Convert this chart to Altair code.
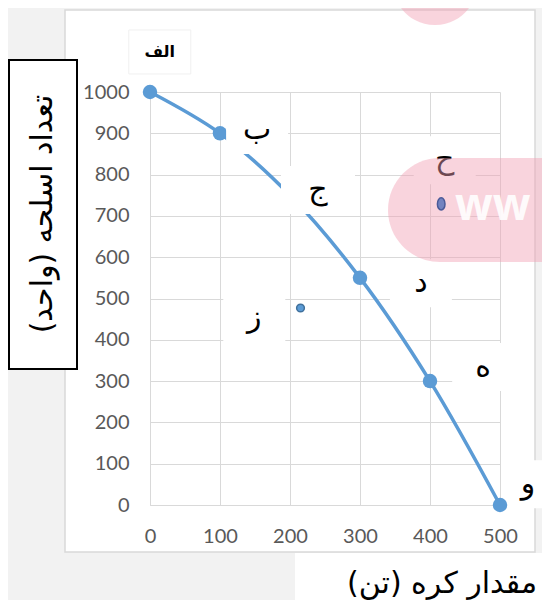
import altair as alt
import pandas as pd

# PPF curve points
curve_x = [0, 100, 200, 300, 400, 500]
curve_y = [1000, 900, 750, 550, 300, 0]

# extra points
inside_x = [215]
inside_y = [477]
outside_x = [416]
outside_y = [729]

# point labels
label_text = ["ب", "ج", "د", "ه", "و", "ز", "ح"]
label_x = [153, 240, 387, 476, 540, 149, 421]
label_y = [908, 763, 537, 334, 50, 453, 835]
first_text = ["الف"]
first_x = [14]
first_y = [1097]

x_ticks = [0, 100, 200, 300, 400, 500]
y_ticks = [0, 100, 200, 300, 400, 500, 600, 700, 800, 900, 1000]

x_title = "مقدار کره (تن)"
y_title = "تعداد اسلحه (واحد)"

curve = pd.DataFrame({"x": curve_x, "y": curve_y})
inside = pd.DataFrame({"x": inside_x, "y": inside_y})
outside = pd.DataFrame({"x": outside_x, "y": outside_y})
labels = pd.DataFrame({"t": label_text, "x": label_x, "y": label_y})
first = pd.DataFrame({"t": first_text, "x": first_x, "y": first_y})
one = pd.DataFrame({"k": [0]})

xs = alt.Scale(domain=[0, 500], nice=False)
ys = alt.Scale(domain=[0, 1000], nice=False)

axis_common = dict(grid=True, gridColor="#d9d9d9", gridWidth=1, domainColor="#d9d9d9",
                   domainWidth=1, ticks=False, labelFont="Lato", labelFontSize=20,
                   labelColor="#595959", labelPadding=21, title=None, format="d",
                   labelFlush=False, labelOverlap=False)

line = alt.Chart(curve).mark_line(color="#5b9bd5", strokeWidth=3.5, interpolate="catmull-rom").encode(
    x=alt.X("x:Q", scale=xs, axis=alt.Axis(values=x_ticks, **axis_common)),
    y=alt.Y("y:Q", scale=ys, axis=alt.Axis(values=y_ticks, **axis_common)),
)
pts = alt.Chart(curve).mark_circle(color="#5b9bd5", opacity=1, size=210).encode(
    x=alt.X("x:Q", scale=xs), y=alt.Y("y:Q", scale=ys))
pin = alt.Chart(inside).mark_point(filled=True, fill="#5b9bd5", stroke="#41719c", strokeWidth=1.5,
                                   opacity=1, size=60, shape="circle").encode(
    x=alt.X("x:Q", scale=xs), y=alt.Y("y:Q", scale=ys))

def rect(x1, x2, y1, y2, **kw):
    return alt.Chart(one).mark_rect(**kw).encode(
        x=alt.value(x1), x2=alt.value(x2), y=alt.value(y1), y2=alt.value(y2))

bg = "#f2f2f2"
strips = [
    rect(-142, 392, -84, -82, fill=bg),
    rect(-142, -85, -84, 508, fill=bg),
    rect(385, 392, -84, 508, fill=bg),
    rect(-142, 392, 460, 508, fill=bg),
]
panel = rect(-85, 385, -82, 460, fill=None, stroke="#d9d9d9", strokeWidth=1.5)

def boxlayer(cond, w):
    return alt.Chart(labels).transform_filter(cond).mark_rect(fill="white", width=w, height=48).encode(
        x=alt.X("x:Q", scale=xs), y=alt.Y("y:Q", scale=ys))

boxes_main = boxlayer("datum.t != 'ج' && datum.t != 'و'", 62)
boxes_j = boxlayer("datum.t == 'ج'", 74)
boxes_v = boxlayer("datum.t == 'و'", 40)
fbox = alt.Chart(first).mark_rect(fill="white", stroke="#f0f0f0", width=62, height=44).encode(
    x=alt.X("x:Q", scale=xs), y=alt.Y("y:Q", scale=ys))
txt = alt.Chart(labels).mark_text(font="DejaVu Sans", fontSize=30, color="black").encode(
    x=alt.X("x:Q", scale=xs), y=alt.Y("y:Q", scale=ys), text="t:N")
ftxt = alt.Chart(first).mark_text(font="DejaVu Sans", fontSize=16, fontWeight="bold", color="black").encode(
    x=alt.X("x:Q", scale=xs), y=alt.Y("y:Q", scale=ys), text="t:N")

# watermark-like shapes
pill = rect(238, 520, 66, 170, fill="#f2a0b4", opacity=0.45, cornerRadius=52)
topc = rect(243, 327, -150, -67, fill="#f2a0b4", opacity=0.45, cornerRadius=42)
www = alt.Chart(one).mark_text(text="ww", font="Open Sans", fontSize=44, fontWeight="bold",
                               color="white", align="left", baseline="middle", opacity=0.9).encode(
    x=alt.value(305), y=alt.value(115))

pout = alt.Chart(outside).mark_point(filled=True, fill="#7283c0", stroke="#4a5a98", strokeWidth=1.5,
                                     opacity=1, size=150,
                                     shape="M0,-1 A0.62,1 0 1,1 0,1 A0.62,1 0 1,1 0,-1 Z").encode(
    x=alt.X("x:Q", scale=xs), y=alt.Y("y:Q", scale=ys))

ybox = rect(-141, -73, -32, 277, fill="white", stroke="black", strokeWidth=2)
ytxt = alt.Chart(one).mark_text(text=y_title, font="DejaVu Sans", fontSize=30, angle=270,
                                color="black", align="center", baseline="middle").encode(
    x=alt.value(-107), y=alt.value(122))
xbox = rect(145, 392, 461, 508, fill="white")
xtxt = alt.Chart(one).mark_text(text=x_title, font="DejaVu Sans", fontSize=30,
                                color="black", align="center", baseline="middle").encode(
    x=alt.value(292), y=alt.value(492))

chart = alt.layer(
    line, pin, pts, *strips, panel, boxes_main, boxes_j, boxes_v, fbox, txt, ftxt,
    pill, topc, www, pout, ybox, ytxt, xbox, xtxt
).properties(
    width=350, height=413,
    autosize=alt.AutoSizeParams(type="none"),
    padding={"left": 142, "top": 84, "right": 42, "bottom": 95},
    background="white",
).configure_view(stroke=None)

chart.save("out.html", embed_options={"renderer": "svg", "actions": False})
